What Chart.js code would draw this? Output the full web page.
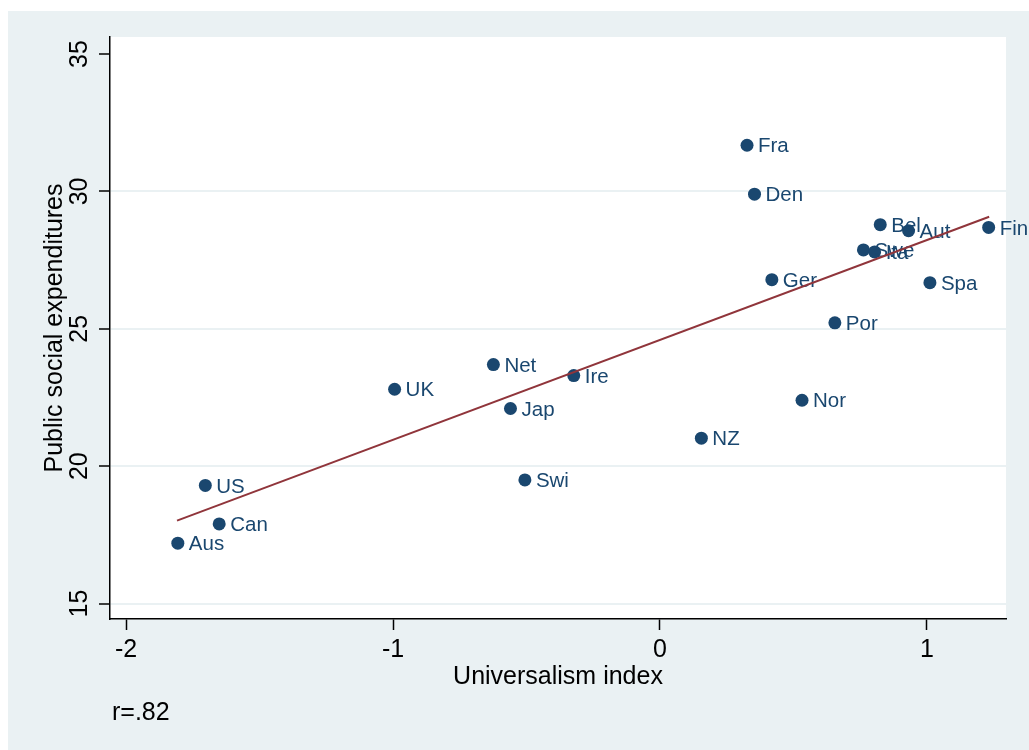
<!DOCTYPE html>
<html>
<head>
<meta charset="utf-8">
<title>Universalism and public social expenditures</title>
<script src="https://cdn.jsdelivr.net/npm/chart.js@4.4.1/dist/chart.umd.min.js"></script>
<style>
  html, body { margin: 0; padding: 0; background: #ffffff; }
  #wrap { width: 1029px; height: 750px; position: relative; }
</style>
</head>
<body>
<div id="wrap"><canvas id="chart" width="1029" height="750"></canvas></div>
<script>
// Country codes, universalism index (x) and public social expenditures (y)
const countries = ['Fra', 'Den', 'Bel', 'Aut', 'Fin', 'Swe', 'Ita', 'Ger', 'Spa', 'Por',
                   'Nor', 'NZ', 'Net', 'Ire', 'UK', 'Jap', 'Swi', 'US', 'Can', 'Aus'];
const universalism = [0.326, 0.354, 0.825, 0.931, 1.231, 0.762, 0.804, 0.419, 1.011, 0.655,
                      0.532, 0.155, -0.624, -0.323, -0.994, -0.560, -0.506, -1.703, -1.651, -1.806];
const expenditures = [31.68, 29.90, 28.79, 28.57, 28.69, 27.87, 27.80, 26.79, 26.68, 25.22,
                      22.40, 21.02, 23.70, 23.30, 22.80, 22.10, 19.50, 19.30, 17.90, 17.20];

// Fitted line end points (x, y)
const fitX = [-1.809, 1.233];
const fitY = [18.02, 29.08];

// Axis ticks and ranges
const xTicks = [-2, -1, 0, 1];
const yTicks = [15, 20, 25, 30, 35];
const xRange = [-2.06, 1.296];
const yRange = [14.44, 35.62];

const noteText = 'r=.82';

const NAVY = '#1a476f';
const MAROON = '#90353b';
const BG = '#eaf1f3';
const GRID = '#eaf1f3';
const FONT = '"Liberation Sans", Arial, Helvetica, sans-serif';

const points = universalism.map((x, i) => ({ x: x, y: expenditures[i] }));
const fitLine = fitX.map((x, i) => ({ x: x, y: fitY[i] }));

// Outer panel and white plot region
const panelPlugin = {
  id: 'panel',
  beforeDraw(chart) {
    const { ctx, chartArea: a } = chart;
    ctx.save();
    ctx.fillStyle = '#ffffff';
    ctx.fillRect(0, 0, chart.width, chart.height);
    ctx.fillStyle = BG;
    ctx.fillRect(8, 11, chart.width - 8, chart.height - 11);
    ctx.fillStyle = '#ffffff';
    ctx.fillRect(a.left, a.top, a.right - a.left, a.bottom - a.top);
    ctx.restore();
  }
};

// Country names next to each marker
const markerLabels = {
  id: 'markerLabels',
  afterDatasetDraw(chart, args) {
    if (args.index !== 1) return;
    const { ctx } = chart;
    const meta = args.meta;
    ctx.save();
    ctx.font = '20.5px ' + FONT;
    ctx.fillStyle = NAVY;
    ctx.textAlign = 'left';
    ctx.textBaseline = 'middle';
    meta.data.forEach((el, i) => {
      ctx.fillText(countries[i], el.x + 11, el.y + 1.5);
    });
    ctx.restore();
  }
};

// Correlation note below the x axis
const notePlugin = {
  id: 'note',
  afterDraw(chart) {
    const { ctx } = chart;
    ctx.save();
    ctx.font = '25px ' + FONT;
    ctx.fillStyle = '#000000';
    ctx.textAlign = 'left';
    ctx.textBaseline = 'middle';
    ctx.fillText(noteText, 112, 713);
    ctx.restore();
  }
};

new Chart(document.getElementById('chart'), {
  type: 'scatter',
  data: {
    datasets: [
      {
        type: 'line',
        data: fitLine,
        borderColor: MAROON,
        borderWidth: 2,
        pointRadius: 0,
        fill: false,
        tension: 0
      },
      {
        data: points,
        backgroundColor: NAVY,
        borderWidth: 0,
        pointRadius: 6.5,
        pointHoverRadius: 6.5
      }
    ]
  },
  options: {
    responsive: false,
    animation: false,
    events: [],
    layout: { padding: { left: 0, top: 37, right: 23, bottom: 0 } },
    plugins: {
      legend: { display: false },
      tooltip: { enabled: false },
      title: { display: false }
    },
    scales: {
      x: {
        type: 'linear',
        min: xRange[0],
        max: xRange[1],
        afterBuildTicks: s => { s.ticks = xTicks.map(v => ({ value: v })); },
        afterFit: s => { s.height = 131; },
        border: { display: true, color: '#000000', width: 1.5 },
        grid: { drawOnChartArea: false, drawTicks: true, tickLength: 11, tickColor: '#000000', tickWidth: 1.5 },
        ticks: {
          autoSkip: false,
          maxRotation: 0,
          padding: 5,
          color: '#000000',
          font: { family: FONT, size: 25 },
          callback: v => String(v)
        },
        title: {
          display: true,
          text: 'Universalism index',
          color: '#000000',
          font: { family: FONT, size: 25 },
          padding: { top: 0, bottom: 58 }
        }
      },
      y: {
        type: 'linear',
        min: yRange[0],
        max: yRange[1],
        afterBuildTicks: s => { s.ticks = yTicks.map(v => ({ value: v })); },
        afterFit: s => { s.width = 110; },
        border: { display: true, color: '#000000', width: 1.5 },
        grid: {
          drawOnChartArea: true,
          drawTicks: true,
          tickLength: 11,
          tickColor: '#000000',
          tickWidth: 1.5,
          lineWidth: 2,
          color: c => (c.tick && c.tick.value === 35) ? 'rgba(0,0,0,0)' : GRID
        },
        ticks: {
          autoSkip: false,
          minRotation: 90,
          maxRotation: 90,
          crossAlign: 'center',
          padding: 5,
          color: '#000000',
          font: { family: FONT, size: 25 },
          callback: v => String(v)
        },
        title: {
          display: true,
          text: 'Public social expenditures',
          color: '#000000',
          font: { family: FONT, size: 25 },
          padding: { top: 40, bottom: 0 }
        }
      }
    }
  },
  plugins: [panelPlugin, markerLabels, notePlugin]
});
</script>
</body>
</html>
